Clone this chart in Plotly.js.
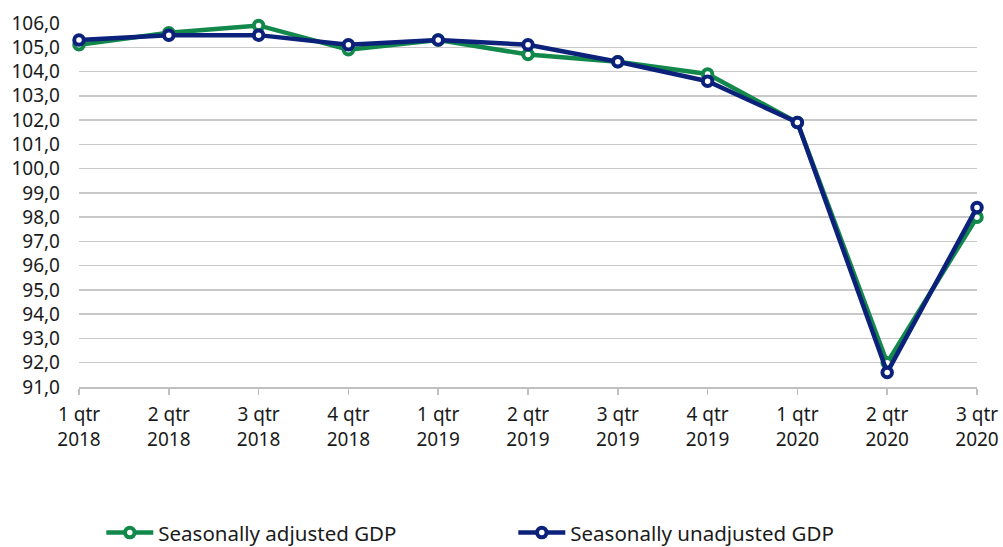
<!DOCTYPE html>
<html>
<head>
<meta charset="utf-8">
<script src="https://cdn.plot.ly/plotly-3.0.1.min.js"></script>
<style>html,body{margin:0;padding:0;background:#fff;}#chart{width:1003px;height:547px;}</style>
</head>
<body>
<div id="chart"></div>
<script>
var quarters = ["1 qtr<br>2018","2 qtr<br>2018","3 qtr<br>2018","4 qtr<br>2018","1 qtr<br>2019","2 qtr<br>2019","3 qtr<br>2019","4 qtr<br>2019","1 qtr<br>2020","2 qtr<br>2020","3 qtr<br>2020"];
var adjusted = [105.1, 105.6, 105.9, 104.9, 105.3, 104.7, 104.4, 103.9, 101.9, 92.0, 98.0];
var unadjusted = [105.3, 105.5, 105.5, 105.1, 105.3, 105.1, 104.4, 103.6, 101.9, 91.6, 98.4];
var yTicks = [91,92,93,94,95,96,97,98,99,100,101,102,103,104,105,106];

var green = '#12884a';
var navy = '#0b217a';
var fontFam = '"Noto Sans", "Open Sans", sans-serif';

var traces = [
  {x: quarters, y: adjusted, name: 'Seasonally adjusted GDP', type: 'scatter', mode: 'lines+markers',
   line: {color: green, width: 4.5}, cliponaxis: false,
   marker: {symbol: 'circle', size: 9.5, color: '#ffffff', line: {color: green, width: 4}}},
  {x: quarters, y: unadjusted, name: 'Seasonally unadjusted GDP', type: 'scatter', mode: 'lines+markers',
   line: {color: navy, width: 4.5}, cliponaxis: false,
   marker: {symbol: 'circle', size: 9.5, color: '#ffffff', line: {color: navy, width: 4}}}
];

var layout = {
  width: 1003, height: 547,
  margin: {l: 79, r: 26, t: 23, b: 160},
  paper_bgcolor: '#ffffff', plot_bgcolor: '#ffffff',
  separators: ', ',
  font: {family: fontFam, size: 19, color: '#1a1a1a'},
  showlegend: true,
  legend: {orientation: 'h', xref: 'container', yref: 'container', x: 0.101, y: 0.026,
    xanchor: 'left', yanchor: 'middle', entrywidth: 350, entrywidthmode: 'pixels',
    itemwidth: 47, font: {family: fontFam, size: 20.5, color: '#1a1a1a'}, bgcolor: 'rgba(0,0,0,0)',
    traceorder: 'normal'},
  xaxis: {type: 'category', range: [0, 10], showgrid: false, zeroline: false,
    showline: true, linecolor: '#bfbfbf', linewidth: 1.5,
    ticks: 'outside', ticklen: 6, tickcolor: '#bfbfbf', tickwidth: 1.5,
    ticklabelstandoff: 4,
    tickfont: {family: fontFam, size: 19, color: '#1a1a1a'}, fixedrange: true},
  yaxis: {range: [91, 106], tickvals: yTicks, tickformat: '.1f', showgrid: true,
    gridcolor: '#c8c8c8', gridwidth: 1.5, zeroline: false, showline: false, ticks: '',
    ticklabelstandoff: 18,
    tickfont: {family: fontFam, size: 19, color: '#1a1a1a'}, fixedrange: true}
};

Plotly.newPlot('chart', traces, layout, {displayModeBar: false, staticPlot: true});
</script>
</body>
</html>
